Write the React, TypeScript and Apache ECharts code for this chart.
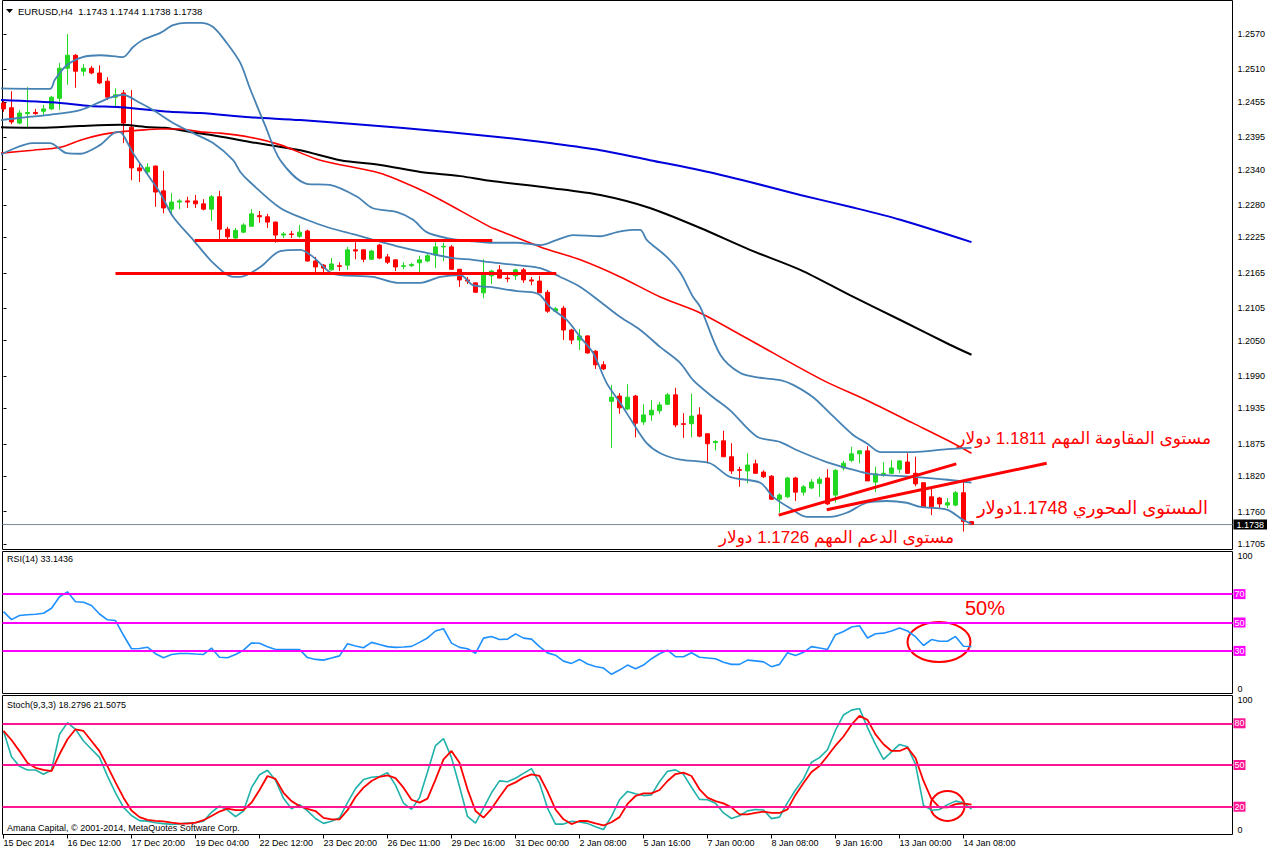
import React, { useEffect, useRef } from 'react';
import * as echarts from 'echarts';

// ---------- candles (EURUSD H4), index 0..121 ----------
const opens = [1.2453,1.2445,1.2419,1.2435,1.2437,1.2439,1.2443,1.2461,1.2512,1.2534,1.2507,1.2512,1.2504,1.2490,1.2463,1.2470,1.2412,1.2343,1.2336,1.2346,1.2304,1.2273,1.2285,1.2287,1.2287,1.2282,1.2273,1.2294,1.2239,1.2224,1.2234,1.2244,1.2262,1.2260,1.2251,1.2229,1.2231,1.2227,1.2236,1.2185,1.2178,1.2170,1.2177,1.2178,1.2204,1.2204,1.2188,1.2212,1.2192,1.2187,1.2176,1.2177,1.2182,1.2185,1.2195,1.2209,1.2209,1.2171,1.2153,1.2148,1.2131,1.2160,1.2170,1.2156,1.2160,1.2170,1.2153,1.2151,1.2132,1.2100,1.2105,1.2068,1.2051,1.2058,1.2032,1.2009,1.1947,1.1956,1.1934,1.1956,1.1912,1.1924,1.1931,1.1942,1.1958,1.1909,1.1909,1.1924,1.1892,1.1877,1.1880,1.1853,1.1831,1.1829,1.1841,1.1827,1.1820,1.1781,1.1785,1.1817,1.1793,1.1800,1.1808,1.1817,1.1788,1.1834,1.1847,1.1858,1.1863,1.1810,1.1822,1.1825,1.1832,1.1844,1.1825,1.1809,1.1785,1.1783,1.1771,1.1771,1.1792,1.1743];
const highs = [1.2458,1.2473,1.2441,1.2480,1.2443,1.2450,1.2465,1.2521,1.2570,1.2536,1.2519,1.2516,1.2517,1.2497,1.2478,1.2475,1.2475,1.2351,1.2351,1.2347,1.2338,1.2300,1.2290,1.2294,1.2297,1.2290,1.2297,1.2304,1.2243,1.2241,1.2249,1.2273,1.2270,1.2265,1.2252,1.2234,1.2236,1.2246,1.2238,1.2192,1.2180,1.2190,1.2183,1.2209,1.2217,1.2205,1.2204,1.2214,1.2197,1.2188,1.2183,1.2182,1.2194,1.2197,1.2217,1.2216,1.2212,1.2171,1.2158,1.2148,1.2188,1.2170,1.2178,1.2161,1.2172,1.2173,1.2158,1.2160,1.2136,1.2107,1.2109,1.2070,1.2070,1.2059,1.2034,1.2015,1.1975,1.1961,1.1976,1.1958,1.1942,1.1949,1.1946,1.1961,1.1970,1.1927,1.1960,1.1937,1.1892,1.1881,1.1897,1.1876,1.1836,1.1859,1.1848,1.1830,1.1822,1.1791,1.1819,1.1819,1.1805,1.1815,1.1819,1.1832,1.1832,1.1846,1.1870,1.1864,1.1871,1.1836,1.1844,1.1847,1.1847,1.1859,1.1853,1.1809,1.1802,1.1785,1.1783,1.1795,1.1810,1.1744];
const lows = [1.2438,1.2417,1.2417,1.2412,1.2433,1.2433,1.2441,1.2441,1.2484,1.2479,1.2499,1.2502,1.2485,1.2458,1.2446,1.2385,1.2322,1.2319,1.2333,1.2277,1.2266,1.2266,1.2273,1.2275,1.2275,1.2271,1.2253,1.2221,1.2222,1.2221,1.2232,1.2243,1.2250,1.2241,1.2216,1.2224,1.2224,1.2224,1.2184,1.2166,1.2166,1.2169,1.2168,1.2170,1.2188,1.2183,1.2187,1.2188,1.2180,1.2168,1.2171,1.2175,1.2166,1.2183,1.2173,1.2185,1.2170,1.2141,1.2146,1.2131,1.2122,1.2146,1.2156,1.2149,1.2153,1.2148,1.2144,1.2131,1.2097,1.2099,1.2051,1.2044,1.2034,1.2028,1.2002,1.2000,1.1868,1.1926,1.1932,1.1886,1.1907,1.1914,1.1926,1.1941,1.1903,1.1885,1.1886,1.1886,1.1842,1.1864,1.1853,1.1824,1.1802,1.1808,1.1824,1.1817,1.1780,1.1758,1.1783,1.1778,1.1787,1.1798,1.1785,1.1771,1.1775,1.1830,1.1844,1.1842,1.1812,1.1793,1.1819,1.1824,1.1825,1.1824,1.1803,1.1766,1.1754,1.1766,1.1766,1.1769,1.1726,1.1738];
const closes = [1.2443,1.2421,1.2436,1.2437,1.2435,1.2443,1.2463,1.2512,1.2534,1.2507,1.2512,1.2504,1.2487,1.2463,1.2467,1.2419,1.2343,1.2338,1.2344,1.2302,1.2275,1.2285,1.2287,1.2285,1.2282,1.2273,1.2294,1.2239,1.2226,1.2237,1.2246,1.2265,1.2260,1.2251,1.2229,1.2231,1.2230,1.2234,1.2185,1.2175,1.2173,1.2180,1.2176,1.2204,1.2202,1.2188,1.2202,1.2190,1.2183,1.2175,1.2177,1.2179,1.2187,1.2194,1.2209,1.2210,1.2171,1.2153,1.2151,1.2132,1.2161,1.2168,1.2156,1.2155,1.2170,1.2153,1.2151,1.2131,1.2100,1.2104,1.2068,1.2051,1.2058,1.2029,1.2009,1.2002,1.1954,1.1936,1.1954,1.1910,1.1924,1.1932,1.1941,1.1958,1.1907,1.1908,1.1922,1.1888,1.1875,1.1879,1.1853,1.1829,1.1830,1.1839,1.1825,1.1819,1.1781,1.1788,1.1817,1.1793,1.1802,1.1810,1.1815,1.1773,1.1830,1.1842,1.1858,1.1863,1.1812,1.1824,1.1825,1.1834,1.1846,1.1825,1.1807,1.1768,1.1768,1.1773,1.1775,1.1792,1.1743,1.1738];

// ---------- overlays, points as [bar index, price] ----------
const bbUpper = [[-0.4,1.2478],[5.8,1.2477],[6.4,1.2492],[7.9,1.2517],[9.9,1.2531],[12.1,1.2534],[14.9,1.2531],[16.2,1.2548],[17.4,1.2560],[19.6,1.2572],[21.2,1.2585],[22.9,1.2589],[24.6,1.2589],[26.2,1.2582],[27.9,1.2555],[29.6,1.2521],[30.8,1.2478],[32.7,1.2415],[34.6,1.2356],[37.9,1.2316],[40.8,1.2314],[44.2,1.2294],[46.1,1.2275],[49.2,1.2268],[51.2,1.2255],[52.9,1.2234],[55.4,1.2224],[58.3,1.2219],[60.8,1.2216],[64.2,1.2216],[67.1,1.2212],[69.2,1.2221],[71.2,1.2229],[74.6,1.2227],[76.7,1.2234],[78.6,1.2238],[79.6,1.2238],[80.4,1.2221],[82.9,1.2192],[84.6,1.2165],[86.2,1.2124],[87.1,1.2107],[89.6,1.2026],[92.1,1.1995],[94.6,1.1987],[97.1,1.1983],[98.7,1.1975],[101.2,1.1954],[103.3,1.1927],[106.2,1.1890],[107.9,1.1876],[109.6,1.1861],[113.7,1.1861],[118,1.1866],[121,1.1868]];
const bbMiddle = [[-0.4,1.2424],[2.1,1.2428],[5.8,1.2433],[9.6,1.2441],[12.1,1.2455],[13.3,1.2462],[14.9,1.2467],[17.1,1.2453],[18.7,1.2441],[21.2,1.2419],[23.7,1.2402],[26.2,1.2385],[28.7,1.2356],[29.6,1.2336],[30.8,1.2319],[34.6,1.2275],[37.9,1.2255],[40.8,1.2241],[44.2,1.2229],[46.2,1.2221],[49.2,1.2210],[52.9,1.2199],[56.2,1.2190],[58.7,1.2187],[60.8,1.2183],[64.2,1.2178],[67.1,1.2173],[69.6,1.2158],[72.1,1.2141],[74.6,1.2116],[77.1,1.2090],[79.6,1.2068],[82.1,1.2039],[84.6,1.2012],[86.2,1.1983],[88.7,1.1954],[90.8,1.1932],[94.2,1.1887],[97.1,1.1878],[99.2,1.1864],[102.9,1.1844],[106.2,1.1831],[108.3,1.1824],[113.7,1.1819],[118,1.1814],[121,1.1809]];
const bbLower = [[-0.4,1.2365],[3.7,1.2385],[5.8,1.2385],[7.9,1.2368],[9.6,1.2367],[12.1,1.2382],[14.2,1.2404],[14.8,1.2402],[16.2,1.2368],[17.9,1.2334],[19.6,1.2300],[21.2,1.2260],[23.7,1.2221],[26.2,1.2182],[28.7,1.2158],[29.6,1.2158],[32.1,1.2175],[34.6,1.2202],[37.1,1.2204],[38.7,1.2192],[40.8,1.2166],[42.1,1.2161],[46.2,1.2158],[49.2,1.2148],[52.1,1.2148],[54.6,1.2158],[57.1,1.2161],[58.7,1.2144],[60.8,1.2141],[64.2,1.2134],[66.2,1.2132],[67.1,1.2127],[68.3,1.2107],[70.4,1.2085],[72.1,1.2056],[73.7,1.2029],[75.4,1.1978],[77.1,1.1944],[78.7,1.1910],[80.4,1.1876],[82.1,1.1859],[84.6,1.1848],[88.3,1.1842],[90.8,1.1819],[94.6,1.1809],[96.2,1.1785],[98.3,1.1766],[100.4,1.1751],[103.3,1.1751],[105.4,1.1758],[107.9,1.1775],[110.4,1.1778],[112.9,1.1775],[114.6,1.1768],[118,1.1763],[119.9,1.1746],[121,1.1739]];
const maRed = [[-0.4,1.2368],[3.7,1.2373],[7.1,1.2378],[9.6,1.2390],[12.1,1.2399],[14.6,1.2404],[17.1,1.2407],[19.6,1.2409],[22.1,1.2409],[24.6,1.2404],[27.1,1.2402],[30.8,1.2395],[34.6,1.2382],[39.6,1.2356],[47.1,1.2334],[52.1,1.2306],[54.6,1.2289],[60.8,1.2243],[61.7,1.2238],[67.1,1.2209],[72.1,1.2187],[77.1,1.2158],[82.1,1.2124],[87.1,1.2097],[93.3,1.2051],[102.4,1.1983],[107.9,1.1949],[113.7,1.1910],[118,1.1881],[121,1.1859]];
const maBlack = [[-0.4,1.2412],[4.6,1.2411],[9.6,1.2414],[14.6,1.2416],[18.3,1.2412],[20.2,1.2411],[23.3,1.2404],[25.8,1.2399],[29.6,1.2390],[30.8,1.2387],[37.1,1.2373],[42.1,1.2356],[47.1,1.2348],[52.1,1.2336],[57.1,1.2329],[60.8,1.2321],[68.3,1.2309],[74.6,1.2297],[80.8,1.2275],[87.1,1.2241],[93.3,1.2204],[99.6,1.2170],[105.8,1.2127],[112.1,1.2085],[118.3,1.2043],[121,1.2026]];
const maBlue = [[-0.4,1.2458],[7.1,1.2453],[10.8,1.2448],[14.6,1.2446],[20.8,1.2438],[24.6,1.2436],[30.8,1.2429],[37.1,1.2424],[49.6,1.2411],[62.1,1.2395],[68.3,1.2385],[74.6,1.2373],[80.8,1.2356],[87.1,1.2339],[93.3,1.2319],[99.6,1.2297],[105.8,1.2277],[112.1,1.2255],[121,1.2217]];

// drawn objects (two points each)
const levelLineA = [[23.9,1.2220],[61.1,1.2220]];
const levelLineB = [[14.0,1.2164],[69.1,1.2164]];
const trendLineA = [[96.9,1.1754],[119.1,1.1841]];
const trendLineB = [[102.9,1.1763],[130.4,1.1842]];
const bidPrice = 1.1738;

// ---------- indicators ----------
const rsi = [57.7,52,54.9,55.5,55.8,56.5,60,68.1,71.6,64.6,64.3,62,56,51.9,51.4,41,31.5,31.7,32.6,28,25.2,27.5,28.2,28.2,27.8,27.5,32,25.5,25.2,27.5,30.5,35.6,35.4,33,31,31,31,31,25.3,24,23.5,25,26.5,35,33.5,32.2,36,34.5,33,32.5,32.8,33.2,36,39.1,44,45.6,35.5,32.5,31.5,28.3,39,40.2,38,38.3,42,39,38.3,33,28.6,27,22.8,21.2,24,20.8,19,17.9,13.5,16.5,20,17.5,20,24.5,28,30.5,26,25.9,28.7,25.5,25,24.5,22,20.5,20.5,23.5,23,22.3,18.9,20.5,28.7,26.8,29,33,32,31,41.4,43.7,46.8,47.7,39.1,42.1,42.5,44,46.1,44,40,33.8,38,36.8,36.8,40.2,33.3,33.14];
const stochK = [74.5,56,49,46.4,46.4,43.3,46.4,72.1,80.5,75.7,67.3,61.3,55.5,42,30,19.5,13.7,10,9.6,8.5,7.8,7.3,7.6,8.3,8.5,9.5,16,20.5,17.6,12.8,16.9,33.7,43,46.2,39,26,18.5,21.5,17,11.5,8,9.5,12,23,33,39.5,41.2,41.7,44.5,35.5,22.5,18.1,26.5,45,64,69,55.3,34.5,13,8.2,19,30,38.6,38,40.5,44,47.4,37,19,7.5,7.5,9.5,9,8,5.5,3.6,13,25,31,29.3,28,28.5,38,45.5,46.5,43.3,34,25.3,25,22.5,15.5,11.5,13.5,17,18,17.6,11.4,12.5,22.9,32,40,52,55.3,61,75,86,89.5,90.6,76.9,64.9,54.1,59.5,64.8,63.2,50.5,21,17.5,18,21.5,24,22.9,18.28];
const stochD = [74.5,68,60,51.5,48,46.5,45.6,57.7,68.5,75.7,74.5,67.3,60,49,37.5,26.5,17.3,12.5,10.5,9.8,9.5,8.5,7.8,7.8,8.5,10.3,13.3,16.5,18.6,17.5,17.5,22.9,32,42.1,40,30,24,20.5,18.5,16.9,12,10.9,10.9,17.5,27,33.7,38.5,41.5,42.6,40.5,33.7,25,22.9,25.8,39.5,54.1,60.1,51.7,32.5,16.9,12.1,18.5,27,34.9,37.5,41,43.3,42.1,31,18,10.9,7.5,9.7,9.7,8,6.5,8.8,12.5,22,27.7,29.6,29.6,32,38.5,43.5,44.5,42.1,32.5,26.5,24,22.4,19.5,14.5,14.5,15.5,16.5,15.5,15.5,18.1,28.5,37,45,49.3,56.5,64,70.5,79,85.3,82.5,72,64.9,60.1,60.1,62.5,55,38.5,25.5,19.5,19.5,21.8,22.4,21.51];
const rsiLevels = [70, 50, 30];
const stochLevels = [80, 50, 20];

// ---------- tick labels ----------
const priceTickLabels = ['1.2570','1.2510','1.2455','1.2395','1.2340','1.2280','1.2225','1.2165','1.2105','1.2050','1.1990','1.1935','1.1875','1.1820','1.1760','1.1705'];
const timeTickLabels = ['15 Dec 2014','16 Dec 12:00','17 Dec 20:00','19 Dec 04:00','22 Dec 12:00','23 Dec 20:00','26 Dec 11:00','29 Dec 16:00','31 Dec 00:00','2 Jan 08:00','5 Jan 16:00','7 Jan 00:00','8 Jan 08:00','9 Jan 16:00','13 Jan 00:00','14 Jan 08:00'];
const timeTickIndex = [0,8,16,24,32,40,48,56,64,72,80,88,96,104,112,120];

const titleText = 'EURUSD,H4  1.1743 1.1744 1.1738 1.1738';
const rsiTitle = 'RSI(14) 33.1436';
const stochTitle = 'Stoch(9,3,3) 18.2796 21.5075';
const copyright = 'Amana Capital, © 2001-2014, MetaQuotes Software Corp.';
const noteResistance = 'مستوى المقاومة المهم 1.1811 دولار';
const notePivot = 'المستوى المحوري 1.1748دولار';
const noteSupport = 'مستوى الدعم المهم 1.1726 دولار';
const notePercent = '50%';

const FONT = '"Liberation Sans", Arial, "DejaVu Sans", sans-serif';
const X_MIN = -0.125;
const X_MAX = 153.625;

export default function App() {
  const ref = useRef<HTMLDivElement>(null);
  useEffect(() => {
    const chart = echarts.init(ref.current!, null, { renderer: 'svg' });
    const candleData = opens.map((o, i) => [i, o, closes[i], lows[i], highs[i]]);
    const idx = (arr: number[]) => arr.map((v, i) => [i, v]);
    const line = (data: number[][], color: string, width: number, smooth: number | boolean, axis = 0, z = 3) => ({
      type: 'line', data, xAxisIndex: axis, yAxisIndex: axis, showSymbol: false, symbol: 'none',
      smooth, silent: true, z, lineStyle: { color, width }, emphasis: { disabled: true },
    });
    const xBase = (gridIndex: number, show: boolean) => ({
      type: 'value', gridIndex, min: X_MIN, max: X_MAX, show,
      axisLine: { show: false }, splitLine: { show: false },
      axisTick: { show, length: 4, lineStyle: { color: '#000' }, customValues: timeTickIndex },
      axisLabel: {
        show, customValues: timeTickIndex, align: 'left', margin: 4, fontSize: 9, color: '#000', fontFamily: FONT,
        formatter: (v: number) => { const k = timeTickIndex.indexOf(Math.round(v)); return k >= 0 ? timeTickLabels[k] : ''; },
      },
    });
    const levelMark = (levels: number[], color: string) => ({
      silent: true, symbol: ['none', 'none'], animation: false,
      lineStyle: { color, width: 2, type: 'solid' },
      label: { show: true, position: 'end', distance: 1, formatter: (p: any) => String(p.value), backgroundColor: color, color: '#fff', fontSize: 9, fontFamily: FONT, padding: [1, 1, 0, 1] },
      emphasis: { disabled: true },
      data: levels.map((v) => ({ yAxis: v })),
    });
    const option: any = {
      animation: false,
      backgroundColor: '#fff',
      grid: [
        { left: 2.5, top: 0.5, width: 1230, height: 549, show: true, borderColor: '#000', borderWidth: 1, backgroundColor: '#fff' },
        { left: 2.5, top: 551.5, width: 1230, height: 142, show: true, borderColor: '#000', borderWidth: 1, backgroundColor: '#fff' },
        { left: 2.5, top: 695.5, width: 1230, height: 139, show: true, borderColor: '#000', borderWidth: 1, backgroundColor: '#fff' },
      ],
      xAxis: [xBase(0, false), xBase(1, false), xBase(2, true)],
      yAxis: [
        {
          type: 'value', gridIndex: 0, position: 'right', min: 1.16957, max: 1.26269,
          axisLine: { show: false }, splitLine: { show: false },
          axisTick: { show: true, length: 3, lineStyle: { color: '#000' }, customValues: priceTickLabels.map(Number) },
          axisLabel: {
            customValues: priceTickLabels.map(Number), margin: 5, fontSize: 9, color: '#000', fontFamily: FONT, hideOverlap: false,
            formatter: (v: number) => { const k = priceTickLabels.findIndex((s) => Math.abs(Number(s) - v) < 1e-6); return k >= 0 ? priceTickLabels[k] : ''; },
          },
        },
        {
          type: 'value', gridIndex: 1, position: 'right', min: 0, max: 100,
          axisLine: { show: false }, splitLine: { show: false }, axisTick: { show: false },
          axisLabel: { customValues: [0, 100], margin: 5, fontSize: 9, color: '#000', fontFamily: FONT, verticalAlignMaxLabel: 'top', verticalAlignMinLabel: 'bottom' },
        },
        {
          type: 'value', gridIndex: 2, position: 'right', min: 0, max: 100,
          axisLine: { show: false }, splitLine: { show: false }, axisTick: { show: false },
          axisLabel: { customValues: [0, 100], margin: 5, fontSize: 9, color: '#000', fontFamily: FONT, verticalAlignMaxLabel: 'top', verticalAlignMinLabel: 'bottom' },
        },
      ],
      series: [
        {
          type: 'line', xAxisIndex: 0, yAxisIndex: 0, data: [[X_MIN, bidPrice], [X_MAX, bidPrice]],
          showSymbol: false, symbol: 'none', silent: true, z: 1, clip: false,
          lineStyle: { color: '#778899', width: 1 },
          endLabel: { show: true, formatter: bidPrice.toFixed(4), distance: 1, backgroundColor: '#000', color: '#fff', fontSize: 9, fontFamily: FONT, padding: [1, 3, 0, 3] },
          emphasis: { disabled: true },
        },
        {
          type: 'candlestick', xAxisIndex: 0, yAxisIndex: 0, data: candleData, encode: { x: 0, y: [1, 2, 3, 4] },
          barWidth: 4, silent: true, z: 2,
          itemStyle: { color: '#22d822', color0: '#ff0000', borderColor: '#22d822', borderColor0: '#ff0000', borderWidth: 1 },
        },
        line(maBlue, '#0000dd', 2, 0.3),
        line(maBlack, '#000000', 2, 0.3),
        line(maRed, '#ff0000', 1.6, 0.3),
        line(bbUpper, '#4682b4', 1.8, 0.3),
        line(bbMiddle, '#4682b4', 1.8, 0.3),
        line(bbLower, '#4682b4', 1.8, 0.3),
        line(levelLineA, '#ff0000', 3, false, 0, 5),
        line(levelLineB, '#ff0000', 3, false, 0, 5),
        line(trendLineA, '#ff0000', 3, false, 0, 5),
        line(trendLineB, '#ff0000', 3, false, 0, 5),
        { ...line(idx(rsi), '#1e90ff', 1.6, false, 1), markLine: levelMark(rsiLevels, '#ff00ff') },
        { ...line(idx(stochK), '#20b2aa', 1.6, false, 2), markLine: levelMark(stochLevels, '#ff1493') },
        line(idx(stochD), '#ff0000', 1.8, false, 2, 4),
      ],
      graphic: [
        { type: 'polygon', shape: { points: [[6, 9], [13, 9], [9.5, 13]] }, style: { fill: '#000' } },
        { type: 'text', x: 18, y: 11, style: { text: titleText, fill: '#000', font: `9.5px ${FONT}`, verticalAlign: 'middle', textVerticalAlign: 'middle' } },
        { type: 'text', x: 7, y: 559, style: { text: rsiTitle, fill: '#000', font: `9px ${FONT}`, verticalAlign: 'middle', textVerticalAlign: 'middle' } },
        { type: 'text', x: 7, y: 705, style: { text: stochTitle, fill: '#000', font: `9px ${FONT}`, verticalAlign: 'middle', textVerticalAlign: 'middle' } },
        { type: 'text', x: 7, y: 828, style: { text: copyright, fill: '#000', font: `9px ${FONT}`, verticalAlign: 'middle', textVerticalAlign: 'middle' } },
        { type: 'text', x: 1211, y: 438, style: { text: noteResistance, fill: '#ff0000', font: `17px ${FONT}`, align: 'right', textAlign: 'right', verticalAlign: 'middle', textVerticalAlign: 'middle' } },
        { type: 'text', x: 1208, y: 508, style: { text: notePivot, fill: '#ff0000', font: `18px ${FONT}`, align: 'right', textAlign: 'right', verticalAlign: 'middle', textVerticalAlign: 'middle' } },
        { type: 'text', x: 954, y: 537, style: { text: noteSupport, fill: '#ff0000', font: `17px ${FONT}`, align: 'right', textAlign: 'right', verticalAlign: 'middle', textVerticalAlign: 'middle' } },
        { type: 'text', x: 965, y: 608, style: { text: notePercent, fill: '#ff0000', font: `20px ${FONT}`, verticalAlign: 'middle', textVerticalAlign: 'middle' } },
        { type: 'ellipse', shape: { cx: 939, cy: 642, rx: 31.5, ry: 20 }, style: { fill: 'none', stroke: '#ff0000', lineWidth: 2 } },
        { type: 'ellipse', shape: { cx: 947.5, cy: 806, rx: 17, ry: 15 }, style: { fill: 'none', stroke: '#ff0000', lineWidth: 2 } },
      ],
    };
    chart.setOption(option);
    return () => chart.dispose();
  }, []);
  return <div ref={ref} style={{ position: 'fixed', left: 0, top: 0, width: 1272, height: 853, background: '#fff' }} />;
}
